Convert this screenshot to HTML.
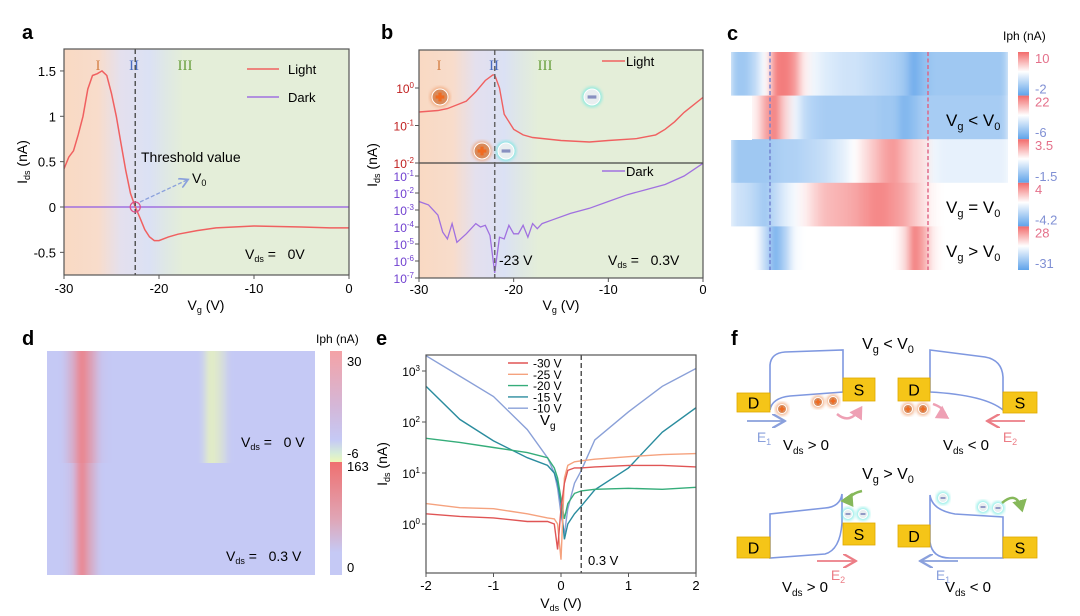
<!DOCTYPE html>
<html><head><meta charset="utf-8"><style>
html,body{margin:0;padding:0;background:#fff}
svg{display:block;font-family:"Liberation Sans",Arial,sans-serif}
</style></head><body>
<svg id="fig" width="1080" height="616" viewBox="0 0 1080 616" xmlns="http://www.w3.org/2000/svg">
<defs>
<linearGradient id="bgA" x1="0" x2="1" y1="0" y2="0">
<stop offset="0" stop-color="#f9d9c3"/><stop offset="0.12" stop-color="#f8dccb"/><stop offset="0.2" stop-color="#e4e0ee"/><stop offset="0.3" stop-color="#dbe1f4"/><stop offset="0.36" stop-color="#dfe8e4"/><stop offset="0.42" stop-color="#e4eed9"/><stop offset="1" stop-color="#e4eed9"/>
</linearGradient>
<linearGradient id="cbD1" x1="0" x2="0" y1="0" y2="1"><stop offset="0" stop-color="#f4a2a6"/><stop offset="0.5" stop-color="#d4b7d8"/><stop offset="0.8" stop-color="#c5c9f5"/><stop offset="0.92" stop-color="#d5ecd8"/><stop offset="1" stop-color="#eef7b8"/></linearGradient>
<linearGradient id="cbD2" x1="0" x2="0" y1="0" y2="1"><stop offset="0" stop-color="#ef7070"/><stop offset="0.5" stop-color="#e0a5b5"/><stop offset="0.8" stop-color="#c5c9f5"/><stop offset="1" stop-color="#c5c9f5"/></linearGradient>
<linearGradient id="cbC" x1="0" x2="0" y1="0" y2="1"><stop offset="0" stop-color="#f26b6b"/><stop offset="0.45" stop-color="#ffffff"/><stop offset="1" stop-color="#5fa3ea"/></linearGradient>
<filter id="blurH" x="-5%" y="0" width="110%" height="100%"><feGaussianBlur stdDeviation="4 0"/></filter>
<filter id="glowO"><feGaussianBlur stdDeviation="1.5"/></filter>
<clipPath id="clipA"><rect x="64" y="49" width="285" height="226"/></clipPath>
<clipPath id="clipBt"><rect x="419" y="50" width="284" height="113"/></clipPath>
<clipPath id="clipBb"><rect x="419" y="163" width="284" height="115"/></clipPath>
<clipPath id="clipE"><rect x="426" y="355" width="270" height="218"/></clipPath>
<clipPath id="clipC"><rect x="731" y="52" width="277" height="218"/></clipPath>
<clipPath id="clipD"><rect x="47" y="351" width="268" height="224"/></clipPath>
<marker id="arB" markerWidth="8" markerHeight="8" refX="6" refY="4" orient="auto"><path d="M0,0 L7,4 L0,8" fill="none" stroke="#8aa0dc" stroke-width="1.3"/></marker>
<marker id="arR" markerWidth="8" markerHeight="8" refX="6" refY="4" orient="auto"><path d="M0,0 L7,4 L0,8" fill="none" stroke="#ec7d86" stroke-width="1.3"/></marker>
<marker id="arP" markerWidth="6" markerHeight="6" refX="4" refY="3" orient="auto"><path d="M0,0 L5,3 L0,6 Z" fill="#eea0b4"/></marker>
<marker id="arG" markerWidth="6" markerHeight="6" refX="4" refY="3" orient="auto"><path d="M0,0 L5,3 L0,6 Z" fill="#86b85a"/></marker>
</defs>
<g id="root"></g>
</svg>
<script>
// ---------- data ----------
const aVg = [-30,-29.5,-29,-28.5,-28,-27.5,-27,-26.5,-26,-25.5,-25,-24.5,-24,-23.5,-23,-22.5,-22,-21.5,-21,-20.5,-20,-19,-18,-16,-14,-10,-5,-2,0];
const aLight = [0.42,0.55,0.62,0.8,1.0,1.3,1.45,1.47,1.5,1.45,1.25,1.0,0.7,0.4,0.15,0,-0.12,-0.25,-0.33,-0.37,-0.37,-0.33,-0.3,-0.26,-0.23,-0.21,-0.22,-0.23,-0.23];
const aDark = [0,0];
const aDarkVg = [-30,0];
const aYTicks = [1.5,1,0.5,0,-0.5];
const aYLabels = ["1.5","1","0.5","0","-0.5"];
const xTicksVg = [-30,-20,-10,0];

const bVgL = [-30,-28,-27,-26,-25,-24,-23,-22.2,-22,-21.5,-21,-20,-19,-18,-15,-12,-10,-7,-5,-4,-3,-2,-1,0];
const bLightLog = [-0.64,-0.6,-0.55,-0.45,-0.35,-0.1,0.2,0.35,0.35,0,-0.7,-1.1,-1.25,-1.32,-1.4,-1.44,-1.4,-1.35,-1.25,-1.1,-0.9,-0.65,-0.45,-0.25];
const bVgD = [-30,-29,-28,-27.5,-27,-26.5,-26,-25,-24,-23.5,-23,-22.5,-22,-21.5,-21,-20.5,-20,-19.5,-19,-18.5,-18,-17.5,-17,-16,-14,-12,-10,-8,-6,-4,-2,0];
const bDarkLog = [-2.5,-2.7,-3.3,-4.3,-4.7,-3.8,-4.9,-4.4,-3.8,-4.0,-3.9,-4.5,-6.7,-4.6,-4.7,-3.9,-4.4,-4.4,-3.9,-4.6,-3.8,-4.1,-3.8,-3.6,-3.2,-2.9,-2.5,-2.1,-1.8,-1.5,-1.0,-0.25];
const bTopTicks = [0,-1,-2];
const bBotTicks = [-1,-2,-3,-4,-5,-6,-7];

const cRow1 = [-0.6,-0.6,-0.4,0,0.85,0.9,0.7,0.1,-0.1,-0.2,-0.25,-0.3,-0.3,-0.35,-0.4,-0.45,-0.5,-0.6,-0.9,-0.7,-0.6,-0.6,-0.6,-0.6,-0.6,-0.6,-0.6,-0.6];
const cRow2 = [0,0,0.1,0.6,0.9,0.3,-0.1,-0.4,-0.5,-0.55,-0.55,-0.55,-0.55,-0.55,-0.55,-0.6,-0.6,-0.8,-0.7,-0.55,-0.55,-0.55,-0.55,-0.55,-0.55,-0.55,-0.55,-0.55];
const cRow3 = [-0.6,-0.6,-0.6,-0.6,-0.55,-0.5,-0.5,-0.45,-0.4,-0.35,-0.25,-0.15,0,0.2,0.4,0.6,0.7,0.5,0.3,0.2,-0.1,-0.15,-0.15,-0.15,-0.15,-0.15,-0.15,-0.15];
const cRow4 = [-0.3,-0.35,-0.45,-0.6,-0.4,-0.2,-0.05,0.1,0.3,0.45,0.5,0.55,0.6,0.7,0.8,0.8,0.7,0.6,0.4,0.2,0.05,0,0,0,0,0,0,0];
const cRow5 = [0,0,0,-0.4,-0.85,-0.5,-0.05,0,0,0,0,0,0,0,0,0,0,0.2,0.9,0.6,0.1,0,0,0,0,0,0,0];
const cMax = ["10","22","3.5","4","28"];
const cMin = ["-2","-6","-1.5","-4.2","-31"];

const dRow1 = [0,0,0.3,0.9,0.5,0.05,0,0,0,0,0,0,0,0,0,0,-0.8,-0.5,0,0,0,0,0,0,0,0,0];
const dRow2 = [0,0,0.1,0.9,0.35,0,0,0,0,0,0,0,0,0,0,0,0,0,0,0,0,0,0,0,0,0,0];

const eVds = [-2,-1.5,-1,-0.5,-0.2,-0.1,-0.05,0,0.05,0.1,0.2,0.3,0.5,1,1.5,2];
const eM30 = [0.2,0.15,0.12,0.05,0.05,0.0,-0.5,0.3,0.8,1.05,1.1,1.1,1.12,1.15,1.15,1.12];
const eM25 = [0.4,0.32,0.3,0.2,0.12,0.1,0.0,-0.7,0.9,1.15,1.22,1.24,1.27,1.32,1.36,1.38];
const eM20 = [1.68,1.6,1.5,1.4,1.3,1.1,0.9,0.5,0.1,0.4,0.6,0.65,0.68,0.7,0.68,0.72];
const eM15 = [2.7,2.05,1.63,1.3,1.15,1.0,0.8,0.4,-0.3,0.0,0.2,0.35,0.67,1.1,1.8,2.28];
const eM10 = [3.3,2.9,2.5,1.85,1.3,1.0,0.7,0.2,-0.2,0.3,0.8,1.05,1.65,2.2,2.7,3.05];
const eLabels = ["-30 V","-25 V","-20 V","-15 V","-10 V"];
const eXTicks = [-2,-1,0,1,2];
const eYTicks = [3,2,1,0];

// ---------- helpers ----------
const NS="http://www.w3.org/2000/svg";
const root=document.getElementById('root');
function mk(tag,attrs,parent,txt){const e=document.createElementNS(NS,tag);for(const k in attrs)e.setAttribute(k,attrs[k]);if(txt!==undefined)e.textContent=txt;(parent||root).appendChild(e);return e;}
function pathD(xs,ys,fx,fy){return xs.map((x,i)=>(i?'L':'M')+fx(x).toFixed(1)+','+fy(ys[i]).toFixed(1)).join(' ');}

// ---------- panel a ----------
const xa=v=>349+v*9.5, ya=v=>207-v*90.7;
let g=mk('g',{});


let t=mk('text',{x:22,y:39,'font-size':20,'font-weight':'bold'},g,'a');

mk('rect',{x:64,y:49,width:285,height:226,fill:'url(#bgA)'},g);
t=mk('text',{x:98,y:70,'font-size':15,fill:'#d5834a','font-family':'Liberation Serif',"text-anchor":'middle'},g,'I');

t=mk('text',{x:134,y:70,'font-size':15,fill:'#4a6cc0','font-family':'Liberation Serif',"text-anchor":'middle'},g,'II');

t=mk('text',{x:185,y:70,'font-size':15,fill:'#6aa040','font-family':'Liberation Serif',"text-anchor":'middle'},g,'III');

let ln=mk('path',{d:pathD(aDarkVg,aDark,xa,ya),stroke:'#a070e0','stroke-width':1.6,fill:'none','clip-path':'url(#clipA)'},g);

ln=mk('path',{d:pathD(aVg,aLight,xa,ya),stroke:'#f06060','stroke-width':1.5,fill:'none','clip-path':'url(#clipA)'},g);

ln=mk('line',{x1:xa(-22.5),x2:xa(-22.5),y1:49,y2:275,stroke:'#555','stroke-width':1.5,'stroke-dasharray':'5,3'},g);

ln=mk('circle',{cx:xa(-22.5),cy:ya(0),r:5,fill:'none',stroke:'#e0508a','stroke-width':1.3},g);

mk('line',{x1:140,y1:202,x2:187,y2:180,stroke:'#8aa0dc','stroke-width':1.3,'stroke-dasharray':'4,2','marker-end':'url(#arB)'},g);
t=mk('text',{x:141,y:162,'font-size':14},g,'Threshold value');

t=mk('text',{x:192,y:183,'font-size':14},g);t.innerHTML='V<tspan font-size="9" dy="3">0</tspan>';

t=mk('text',{x:245,y:259,'font-size':14},g);t.innerHTML='V<tspan font-size="9" dy="3">ds</tspan><tspan dy="-3"> =&#160;&#160;&#160;0V</tspan>';

ln=mk('line',{x1:247,x2:279,y1:69,y2:69,stroke:'#f06060','stroke-width':1.5},g);
t=mk('text',{x:288,y:74,'font-size':13},g,'Light');

mk('line',{x1:247,x2:279,y1:97,y2:97,stroke:'#a070e0','stroke-width':1.5},g);
t=mk('text',{x:288,y:102,'font-size':13},g,'Dark');

mk('rect',{x:64,y:49,width:285,height:226,fill:'none',stroke:'#555','stroke-width':1.2},g);
aYTicks.forEach((v,i)=>{mk('line',{x1:60,x2:64,y1:ya(v),y2:ya(v),stroke:'#555'},g);
 const tt=mk('text',{x:56,y:ya(v)+5,'font-size':13,'text-anchor':'end'},g,aYLabels[i]);
 });
xTicksVg.forEach(v=>{mk('line',{x1:xa(v),x2:xa(v),y1:275,y2:279,stroke:'#555'},g);
 const tt=mk('text',{x:xa(v),y:293,'font-size':13,'text-anchor':'middle'},g,String(v));
 });
t=mk('text',{x:206,y:310,'font-size':14,'text-anchor':'middle'},g);t.innerHTML='V<tspan font-size="9" dy="3">g</tspan><tspan dy="-3"> (V)</tspan>';

t=mk('text',{x:0,y:0,'font-size':14,'text-anchor':'middle',transform:'translate(27,162) rotate(-90)'},g);t.innerHTML='I<tspan font-size="9" dy="3">ds</tspan><tspan dy="-3"> (nA)</tspan>';


// ---------- panel b ----------
const xb=v=>703+v*9.467, ybt=l=>88-l*37.5, ybb=l=>176-(l+1)*17;
g=mk('g',{});


t=mk('text',{x:381,y:39,'font-size':20,'font-weight':'bold'},g,'b');

mk('rect',{x:419,y:50,width:284,height:228,fill:'url(#bgA)'},g);
t=mk('text',{x:439,y:70,'font-size':15,fill:'#d5834a','font-family':'Liberation Serif','text-anchor':'middle'},g,'I');
t=mk('text',{x:494,y:70,'font-size':15,fill:'#4a6cc0','font-family':'Liberation Serif','text-anchor':'middle'},g,'II');
t=mk('text',{x:545,y:70,'font-size':15,fill:'#6aa040','font-family':'Liberation Serif','text-anchor':'middle'},g,'III');
ln=mk('path',{d:pathD(bVgL,bLightLog,xb,ybt),stroke:'#f06060','stroke-width':1.4,fill:'none','clip-path':'url(#clipBt)'},g);

ln=mk('path',{d:pathD(bVgD,bDarkLog,xb,ybb),stroke:'#a070e0','stroke-width':1.3,fill:'none','clip-path':'url(#clipBb)'},g);

mk('line',{x1:419,x2:703,y1:163,y2:163,stroke:'#444','stroke-width':1.3},g);
ln=mk('line',{x1:xb(-22),x2:xb(-22),y1:50,y2:278,stroke:'#666','stroke-width':1.5,'stroke-dasharray':'5,3'},g);

function charge(cx,cy,pos,r,p){const gg=mk('g',{},p);
 
 mk('circle',{cx,cy,r:r+2,fill:pos?'#f0a070':'#70e8e0',opacity:0.8,filter:'url(#glowO)'},gg);
 mk('circle',{cx,cy,r:r,fill:pos?'#d88a5a':'#e8eef0',stroke:'#fff','stroke-width':1},gg);
 mk('line',{x1:cx-r*0.55,x2:cx+r*0.55,y1:cy,y2:cy,stroke:pos?'#f06a20':'#8890c0','stroke-width':r*0.4},gg);
 if(pos)mk('line',{x1:cx,x2:cx,y1:cy-r*0.55,y2:cy+r*0.55,stroke:'#f06a20','stroke-width':r*0.4},gg);}
charge(440,97,true,8,g);charge(482,151,true,8,g);charge(506,151,false,8,g);charge(592,97,false,8,g);
mk('rect',{x:419,y:50,width:284,height:228,fill:'none',stroke:'#555','stroke-width':1.2},g);
bTopTicks.forEach(l=>{mk('line',{x1:415,x2:419,y1:ybt(l),y2:ybt(l),stroke:'#555'},g);
 const tt=mk('text',{x:414,y:ybt(l)+5,'font-size':12,'text-anchor':'end',fill:'#c02020'},g);tt.innerHTML='10<tspan font-size="8" dy="-5">'+l+'</tspan>';
 });
bBotTicks.forEach(l=>{mk('line',{x1:415,x2:419,y1:ybb(l),y2:ybb(l),stroke:'#555'},g);
 const tt=mk('text',{x:414,y:ybb(l)+5,'font-size':12,'text-anchor':'end',fill:'#7040d0'},g);tt.innerHTML='10<tspan font-size="8" dy="-5">'+l+'</tspan>';
 });
xTicksVg.forEach(v=>{mk('line',{x1:xb(v),x2:xb(v),y1:278,y2:282,stroke:'#555'},g);
 const tt=mk('text',{x:xb(v),y:294,'font-size':13,'text-anchor':'middle'},g,String(v));
 });
mk('line',{x1:602,x2:625,y1:61,y2:61,stroke:'#f06060','stroke-width':1.5},g);
t=mk('text',{x:626,y:66,'font-size':13},g,'Light');
mk('line',{x1:602,x2:625,y1:171,y2:171,stroke:'#a070e0','stroke-width':1.5},g);
t=mk('text',{x:626,y:176,'font-size':13},g,'Dark');
t=mk('text',{x:499,y:265,'font-size':14},g,'-23 V');
t=mk('text',{x:608,y:265,'font-size':14},g);t.innerHTML='V<tspan font-size="9" dy="3">ds</tspan><tspan dy="-3"> =&#160;&#160;&#160;0.3V</tspan>';

t=mk('text',{x:561,y:310,'font-size':14,'text-anchor':'middle'},g);t.innerHTML='V<tspan font-size="9" dy="3">g</tspan><tspan dy="-3"> (V)</tspan>';

t=mk('text',{x:0,y:0,'font-size':14,'text-anchor':'middle',transform:'translate(377,165) rotate(-90)'},g);t.innerHTML='I<tspan font-size="9" dy="3">ds</tspan><tspan dy="-3"> (nA)</tspan>';


// ---------- panel c ----------
function cColor(v){const r0=[242,107,107],w=[255,255,255],b0=[95,163,234];const a=Math.min(1,Math.abs(v));const c=v>=0?r0:b0;
 return 'rgb('+w.map((x,i)=>Math.round(x+(c[i]-x)*a)).join(',')+')';}
g=mk('g',{});


t=mk('text',{x:727,y:40,'font-size':20,'font-weight':'bold'},g,'c');

const cRows=[cRow1,cRow2,cRow3,cRow4,cRow5];
const cX0=731,cW=277,cY0=52,cH=218,rowH=cH/5,colW=cW/28;
const hg=mk('g',{'clip-path':'url(#clipC)'},g);
const hb=mk('g',{filter:'url(#blurH)'},hg);
cRows.forEach((row,r)=>row.forEach((v,i)=>{const c=mk('rect',{x:cX0+i*colW-0.3,y:cY0+r*rowH,width:colW+0.6,height:rowH+0.3,fill:cColor(v)},hb);
 }));
mk('rect',{x:731,y:96,width:21,height:44,fill:'#fff'},hg);
mk('rect',{x:947,y:183,width:61,height:87,fill:'#fff'},hg);
mk('line',{x1:770,x2:770,y1:52,y2:270,stroke:'#7080d0','stroke-width':1.4,'stroke-dasharray':'4,2.5'},g);
mk('line',{x1:928,x2:928,y1:52,y2:270,stroke:'#e06080','stroke-width':1.4,'stroke-dasharray':'4,2.5'},g);
[['<',126],['=',213],['>',257]].forEach(([op,yy])=>{const tt=mk('text',{x:946,y:yy,'font-size':17},g);tt.innerHTML='V<tspan font-size="11" dy="4">g</tspan><tspan dy="-4"> '+op+' V</tspan><tspan font-size="11" dy="4">0</tspan>';
 });
t=mk('text',{x:1003,y:40,'font-size':12},g,'Iph (nA)');
for(let r=0;r<5;r++){const cb=mk('rect',{x:1018,y:cY0+r*rowH,width:11,height:rowH,fill:'url(#cbC)'},g);
 
 let tt=mk('text',{x:1035,y:cY0+r*rowH+11,'font-size':13,fill:'#e4708a'},g,cMax[r]);
 tt=mk('text',{x:1035,y:cY0+(r+1)*rowH-2,'font-size':13,fill:'#8090d4'},g,cMin[r]);}

// ---------- panel d ----------
function dColor(v){const base=[197,201,245];const c=v>=0?[240,120,120]:[236,248,180];const a=Math.min(1,Math.abs(v));
 return 'rgb('+base.map((x,i)=>Math.round(x+(c[i]-x)*a)).join(',')+')';}
g=mk('g',{});


t=mk('text',{x:22,y:345,'font-size':20,'font-weight':'bold'},g,'d');

const dg=mk('g',{'clip-path':'url(#clipD)'},g);
mk('rect',{x:47,y:351,width:268,height:224,fill:'#c5c9f5'},dg);
const db=mk('g',{filter:'url(#blurH)'},dg);
const dColW=268/27;
[dRow1,dRow2].forEach((row,r)=>row.forEach((v,i)=>{const c=mk('rect',{x:47+i*dColW-0.3,y:351+r*112,width:dColW+0.6,height:112,fill:dColor(v)},db);
 }));
t=mk('text',{x:241,y:447,'font-size':14},g);t.innerHTML='V<tspan font-size="9" dy="3">ds</tspan><tspan dy="-3"> =&#160;&#160;&#160;0 V</tspan>';

t=mk('text',{x:226,y:561,'font-size':14},g);t.innerHTML='V<tspan font-size="9" dy="3">ds</tspan><tspan dy="-3"> =&#160;&#160;&#160;0.3 V</tspan>';

t=mk('rect',{x:330,y:351,width:12,height:111,fill:'url(#cbD1)'},g);
t=mk('rect',{x:330,y:462,width:12,height:113,fill:'url(#cbD2)'},g);
t=mk('text',{x:316,y:343,'font-size':12},g,'Iph (nA)');
[['30',366],['-6',458],['163',471],['0',572]].forEach(([s,yy])=>{const tt=mk('text',{x:347,y:yy,'font-size':13},g,s);});

// ---------- panel e ----------
const xe=v=>561+v*67.5, ye=l=>524-l*51;
g=mk('g',{});


t=mk('text',{x:376,y:345,'font-size':20,'font-weight':'bold'},g,'e');

const eSeries=[eM30,eM25,eM20,eM15,eM10];
const eCols=['#e05555','#f5a27e','#35ad7a','#2a8c9e','#8aa0d8'];
const eg=mk('g',{'clip-path':'url(#clipE)'},g);
[4,3,2,1,0].forEach(k=>{const p=mk('path',{d:pathD(eVds,eSeries[k],xe,ye),stroke:eCols[k],'stroke-width':1.4,fill:'none'},eg);
 });
ln=mk('line',{x1:xe(0.3),x2:xe(0.3),y1:355,y2:573,stroke:'#555','stroke-width':1.5,'stroke-dasharray':'5,3'},g);

mk('rect',{x:426,y:355,width:270,height:218,fill:'none',stroke:'#555','stroke-width':1.2},g);
eXTicks.forEach(v=>{mk('line',{x1:xe(v),x2:xe(v),y1:573,y2:577,stroke:'#555'},g);
 const tt=mk('text',{x:xe(v),y:590,'font-size':13,'text-anchor':'middle'},g,String(v));});
eYTicks.forEach(l=>{mk('line',{x1:422,x2:426,y1:ye(l),y2:ye(l),stroke:'#555'},g);
 const tt=mk('text',{x:420,y:ye(l)+5,'font-size':12,'text-anchor':'end'},g);tt.innerHTML='10<tspan font-size="8" dy="-5">'+l+'</tspan>';
 });
eLabels.forEach((s,k)=>{const yy=363+k*11.3;mk('line',{x1:508,x2:528,y1:yy,y2:yy,stroke:eCols[k],'stroke-width':1.4},g);
 const tt=mk('text',{x:533,y:yy+4.5,'font-size':12},g,s);});
t=mk('text',{x:540,y:425,'font-size':15},g);t.innerHTML='V<tspan font-size="10" dy="4">g</tspan>';

t=mk('text',{x:588,y:565,'font-size':13},g,'0.3 V');
t=mk('text',{x:561,y:608,'font-size':14,'text-anchor':'middle'},g);t.innerHTML='V<tspan font-size="9" dy="3">ds</tspan><tspan dy="-3"> (V)</tspan>';

t=mk('text',{x:0,y:0,'font-size':14,'text-anchor':'middle',transform:'translate(387,464) rotate(-90)'},g);t.innerHTML='I<tspan font-size="9" dy="3">ds</tspan><tspan dy="-3"> (nA)</tspan>';


// ---------- panel f ----------
g=mk('g',{});


t=mk('text',{x:731,y:345,'font-size':20,'font-weight':'bold'},g,'f');

function ftext(x,y,html,name,size){const tt=mk('text',{x,y,'font-size':size||16,'text-anchor':'middle'},g);tt.innerHTML=html;
 }
ftext(888,349,'V<tspan font-size="11" dy="4">g</tspan><tspan dy="-4"> &lt; V</tspan><tspan font-size="11" dy="4">0</tspan>','vg-less-title');
ftext(888,479,'V<tspan font-size="11" dy="4">g</tspan><tspan dy="-4"> &gt; V</tspan><tspan font-size="11" dy="4">0</tspan>','vg-greater-title');
function box(x,y,w,h,s){const b=mk('rect',{x,y,width:w,height:h,fill:'#f5c518',stroke:'#e0a800','stroke-width':0.8},g);
 
 mk('text',{x:x+w/2,y:y+h/2+6,'font-size':16,'text-anchor':'middle'},g,s);}
function band(d){const p=mk('path',{d,fill:'#fff',stroke:'#7f98e0','stroke-width':1.6},g);}
function arrow(x1,x2,y,col,mkr){const a=mk('line',{x1,x2,y1:y,y2:y,stroke:col,'stroke-width':1.8,'marker-end':'url(#'+mkr+')'},g);}
function curl(d,col,mkr){const p=mk('path',{d,fill:'none',stroke:col,'stroke-width':2.5,'marker-end':'url(#'+mkr+')'},g);}
// diagram 1
band('M770,410 L770,365 Q771,353 785,352 L843,350 L843,392 L790,396 Q772,398 770,410 Z');
box(737,393,33,19,'D');box(843,378,32,23,'S');
charge(782,409,true,4.5,g);charge(818,402,true,4.5,g);charge(833,401,true,4.5,g);
curl('M837,414 Q850,425 861,408','#eea0b4','arP');
arrow(747,783,421,'#8aa0dc','arB');
ftext(764,442,'E<tspan font-size="9" dy="3">1</tspan>','e1-label',14);g.lastChild.setAttribute('fill','#8aa0dc');
ftext(806,450,'V<tspan font-size="10" dy="4">ds</tspan><tspan dy="-4"> &gt; 0</tspan>','vds-gt0-label',15);
// diagram 2
band('M930,350 L930,392 Q985,395 1003,410 L1003,377 Q1002,360 985,357 Z');
box(898,378,32,23,'D');box(1003,392,34,21,'S');
charge(908,409,true,4.5,g);charge(923,409,true,4.5,g);
curl('M933,404 Q950,410 937,417','#eea0b4','arP');
arrow(1025,989,421,'#ec7d86','arR');
ftext(1010,442,'E<tspan font-size="9" dy="3">2</tspan>','e2-label',14);g.lastChild.setAttribute('fill','#ec7d86');
ftext(966,450,'V<tspan font-size="10" dy="4">ds</tspan><tspan dy="-4"> &lt; 0</tspan>','vds-lt0-label',15);
// diagram 3
band('M770,514 L770,558 L825,554 Q840,550 842,523 L842,494 Q840,507 825,508 Z');
box(737,537,33,21,'D');box(843,523,32,22,'S');
charge(848,514,false,4.5,g);charge(863,514,false,4.5,g);
curl('M862,491 Q845,495 852,505','#86b85a','arG');
arrow(817,854,561,'#ec7d86','arR');
ftext(838,580,'E<tspan font-size="9" dy="3">2</tspan>','e2-label',14);g.lastChild.setAttribute('fill','#ec7d86');
ftext(805,592,'V<tspan font-size="10" dy="4">ds</tspan><tspan dy="-4"> &gt; 0</tspan>','vds-gt0-label',15);
// diagram 4
band('M930,495 L930,542 Q932,558 950,558 L1003,558 L1003,517 L955,514 Q932,510 930,495 Z');
box(898,525,32,22,'D');box(1003,537,34,21,'S');
charge(943,498,false,4.5,g);charge(983,507,false,4.5,g);charge(998,508,false,4.5,g);
curl('M1002,503 Q1017,490 1022,510','#86b85a','arG');
arrow(958,922,561,'#8aa0dc','arB');
ftext(943,580,'E<tspan font-size="9" dy="3">1</tspan>','e1-label',14);g.lastChild.setAttribute('fill','#8aa0dc');
ftext(968,592,'V<tspan font-size="10" dy="4">ds</tspan><tspan dy="-4"> &lt; 0</tspan>','vds-lt0-label',15);
</script>
</body></html>
